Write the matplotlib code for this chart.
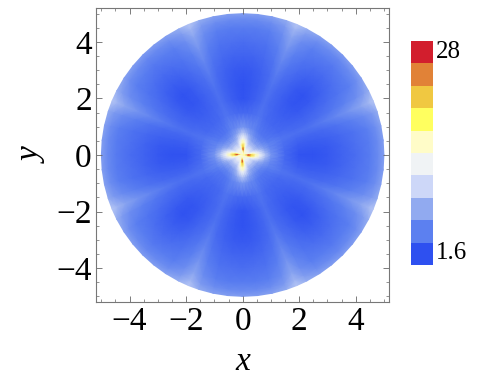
import numpy as np
import matplotlib
matplotlib.use("Agg")
import matplotlib.pyplot as plt
from matplotlib.colors import LinearSegmentedColormap, LogNorm

plt.rcParams["font.family"] = ["Liberation Serif", "DejaVu Serif"]

vmin = 1.6
vmax = 28

swatch_colors = ["#2e50f0", "#5c80f0", "#91aaf0", "#cdd7f8", "#f0f3f5",
                 "#fffcc8", "#ffff5f", "#f0c841", "#e18237", "#d21e2d"]

radii = [0, 0.1, 0.2, 0.3, 0.45, 0.6, 0.8, 1, 1.5, 2, 2.5, 3, 3.5, 4, 4.5, 4.8, 5]

# values read by eye along rays in one octant, the picture is close to symmetric
octant_angles = [0, 6, 12, 18, 22.5, 27, 33, 39, 45]
ray_0 = [7.5, 10, 28, 15, 8.5, 5.6, 3.6, 2.6, 1.9, 1.65, 1.62, 1.7, 1.82, 1.95, 2.15, 2.4, 2.75]
ray_6 = [7.5, 9, 19, 12, 7.5, 5, 3.3, 2.5, 1.9, 1.7, 1.68, 1.73, 1.85, 1.98, 2.15, 2.4, 2.75]
ray_12 = [7.5, 8, 9.5, 8, 5.6, 4.2, 3.0, 2.4, 1.95, 1.78, 1.76, 1.8, 1.9, 2.02, 2.2, 2.45, 2.8]
ray_18 = [7.5, 7.5, 6.8, 5.6, 4.6, 3.5, 2.7, 2.3, 1.98, 1.88, 1.88, 1.93, 2.03, 2.2, 2.42, 2.7, 3.05]
ray_22 = [7.5, 7, 6, 5, 4, 3.2, 2.6, 2.3, 2.03, 1.98, 2.02, 2.12, 2.3, 2.55, 2.9, 3.3, 3.7]
ray_27 = [7.5, 7, 5.8, 4.6, 3.6, 3.0, 2.5, 2.2, 1.98, 1.9, 1.9, 1.96, 2.08, 2.22, 2.45, 2.75, 3.1]
ray_33 = [7.5, 7, 5.8, 4.6, 3.5, 2.8, 2.35, 2.1, 1.9, 1.83, 1.8, 1.83, 1.93, 2.03, 2.2, 2.45, 2.8]
ray_39 = [7.5, 7, 5.9, 4.7, 3.5, 2.8, 2.3, 2.05, 1.88, 1.78, 1.7, 1.7, 1.8, 1.97, 2.17, 2.4, 2.75]
ray_45 = [7.5, 7, 5.9, 4.7, 3.5, 2.7, 2.25, 2.05, 1.86, 1.76, 1.66, 1.63, 1.76, 1.93, 2.12, 2.35, 2.7]

octant = np.array([ray_0, ray_6, ray_12, ray_18, ray_22, ray_27, ray_33, ray_39, ray_45])
angles = np.array(octant_angles)

# mirror the octant into a quadrant, then repeat it round the circle
quad_vals = np.vstack([octant, octant[-2::-1]])
quad_angles = np.concatenate([angles, 90 - angles[-2::-1]])
vals = np.vstack([quad_vals[:-1]] * 4 + [quad_vals[:1]])
theta = np.concatenate([quad_angles[:-1] + 90 * k for k in range(4)] + [[360]])

T, R = np.meshgrid(np.deg2rad(theta), radii, indexing="ij")
X = R * np.cos(T)
Y = R * np.sin(T)

cmap = LinearSegmentedColormap.from_list("swatches", swatch_colors)

fig = plt.figure(figsize=(5.0, 3.91), dpi=100)
ax = fig.add_axes([96 / 500, 1 - 302 / 391, 293.3 / 500, 293.7 / 391])
ax.pcolormesh(X, Y, vals, cmap=cmap, norm=LogNorm(vmin, vmax), shading="gouraud", rasterized=True)
ax.set_xlim(-5.19, 5.19)
ax.set_ylim(-5.2, 5.19)

major = [-4, -2, 0, 2, 4]
minor = np.arange(-5, 5.5, 0.5)
ax.set_xticks(major)
ax.set_yticks(major)
ax.set_xticks(minor, minor=True)
ax.set_yticks(minor, minor=True)
ax.set_xticklabels(["\u22124", "\u22122", "0", "2", "4"])
ax.set_yticklabels(["\u22124", "\u22122", "0", "2", "4"])
ax.tick_params(which="major", direction="in", length=4.5, width=0.6, color="#666666",
               top=True, right=True, labelsize=24, pad=3)
ax.tick_params(which="minor", direction="in", length=2.2, width=0.5, color="#666666",
               top=True, right=True)
for s in ax.spines.values():
    s.set_color("#777777")
    s.set_linewidth(0.8)
ax.set_xlabel("x", fontsize=24, style="italic", labelpad=7)
ax.set_ylabel("y", fontsize=24, style="italic", labelpad=6, rotation=90)

# legend bar with ten flat swatches
cax = fig.add_axes([411 / 500, 1 - 265 / 391, 22 / 500, 224 / 391])
cax.bar([0] * len(swatch_colors), [1] * len(swatch_colors), bottom=range(len(swatch_colors)),
        width=1, color=swatch_colors)
cax.set_xlim(-0.5, 0.5)
cax.set_ylim(0, len(swatch_colors))
cax.axis("off")
fig.text(436 / 500, 1 - 52 / 391, "28", fontsize=18, va="center", ha="left")
fig.text(436 / 500, 1 - 253 / 391, "1.6", fontsize=18, va="center", ha="left")

fig.savefig("out.png", dpi=100)
